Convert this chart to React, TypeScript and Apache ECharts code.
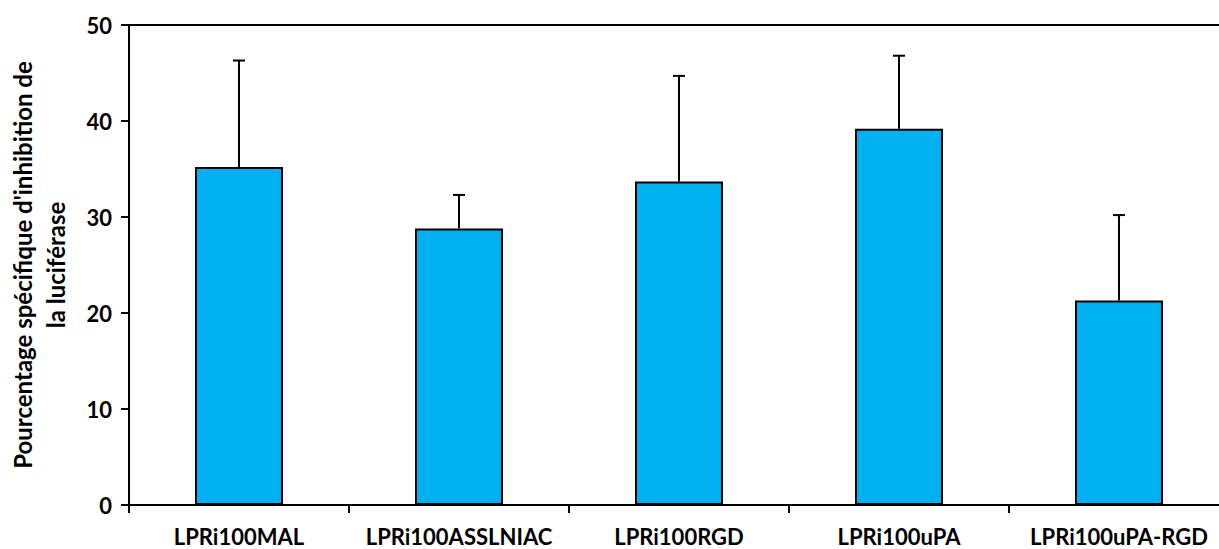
import React, { useEffect, useRef } from "react";
import * as echarts from "echarts";

const categories = ["LPRi100MAL", "LPRi100ASSLNIAC", "LPRi100RGD", "LPRi100uPA", "LPRi100uPA-RGD"];
const means = [35.2, 28.8, 33.7, 39.2, 21.3];
const errors = [11.1, 3.5, 11.0, 7.6, 8.9];
const yTitle = "Pourcentage spécifique d'inhibition de\nla luciférase";

const FONT = "Lato";

export default function App() {
  const ref = useRef<HTMLDivElement>(null);
  useEffect(() => {
    if (!ref.current) return;
    const chart = echarts.init(ref.current, undefined, { renderer: "svg" });
    const errData = means.map((m, i) => [i, m, m + errors[i]]);
    chart.setOption({
      animation: false,
      backgroundColor: "#ffffff",
      grid: { left: 129, right: -10, top: 25, bottom: 44, containLabel: false, outerBoundsMode: "none" },
      xAxis: [
        {
          type: "category",
          data: categories,
          boundaryGap: true,
          axisLine: { show: true, lineStyle: { color: "#000", width: 2 } },
          axisTick: { show: true, alignWithLabel: false, length: 8, lineStyle: { color: "#000", width: 2 } },
          axisLabel: {
            color: "#000",
            fontFamily: FONT,
            fontWeight: "bold",
            fontSize: 22,
            lineHeight: 22,
            margin: 20,
            interval: 0,
          },
          splitLine: { show: false },
        },
        {
          type: "category",
          data: categories,
          position: "top",
          axisLine: { show: true, lineStyle: { color: "#000", width: 2 } },
          axisTick: { show: false },
          axisLabel: { show: false },
          splitLine: { show: false },
        },
      ],
      yAxis: {
        type: "value",
        min: 0,
        max: 50,
        interval: 10,
        name: yTitle,
        nameLocation: "middle",
        nameRotate: 90,
        nameGap: 57,
        nameTextStyle: {
          color: "#000",
          fontFamily: FONT,
          fontWeight: "bold",
          fontSize: 24,
          lineHeight: 33,
          align: "center",
        },
        axisLine: { show: true, lineStyle: { color: "#000", width: 2 } },
        axisTick: { show: true, inside: false, length: 8, lineStyle: { color: "#000", width: 2 } },
        axisLabel: {
          color: "#000",
          fontFamily: FONT,
          fontWeight: "bold",
          fontSize: 22,
          margin: 17,
        },
        splitLine: { show: false },
      },
      series: [
        {
          type: "bar",
          data: means,
          barWidth: "40%",
          itemStyle: { color: "#00B0F0", borderColor: "#000", borderWidth: 2 },
          z: 2,
        },
        {
          type: "custom",
          data: errData,
          z: 3,
          renderItem: (params: any, api: any) => {
            const x = api.value(0);
            const lo = api.coord([x, api.value(1)]);
            const hi = api.coord([x, api.value(2)]);
            const half = 6;
            const style = { stroke: "#000", lineWidth: 2 };
            return {
              type: "group",
              children: [
                { type: "line", shape: { x1: lo[0], y1: lo[1], x2: hi[0], y2: hi[1] }, style },
                { type: "line", shape: { x1: hi[0] - half, y1: hi[1], x2: hi[0] + half, y2: hi[1] }, style },
              ],
            };
          },
        },
      ],
    });
    return () => chart.dispose();
  }, []);
  return <div ref={ref} style={{ width: 1219, height: 549, position: "absolute", left: 0, top: 0 }} />;
}
